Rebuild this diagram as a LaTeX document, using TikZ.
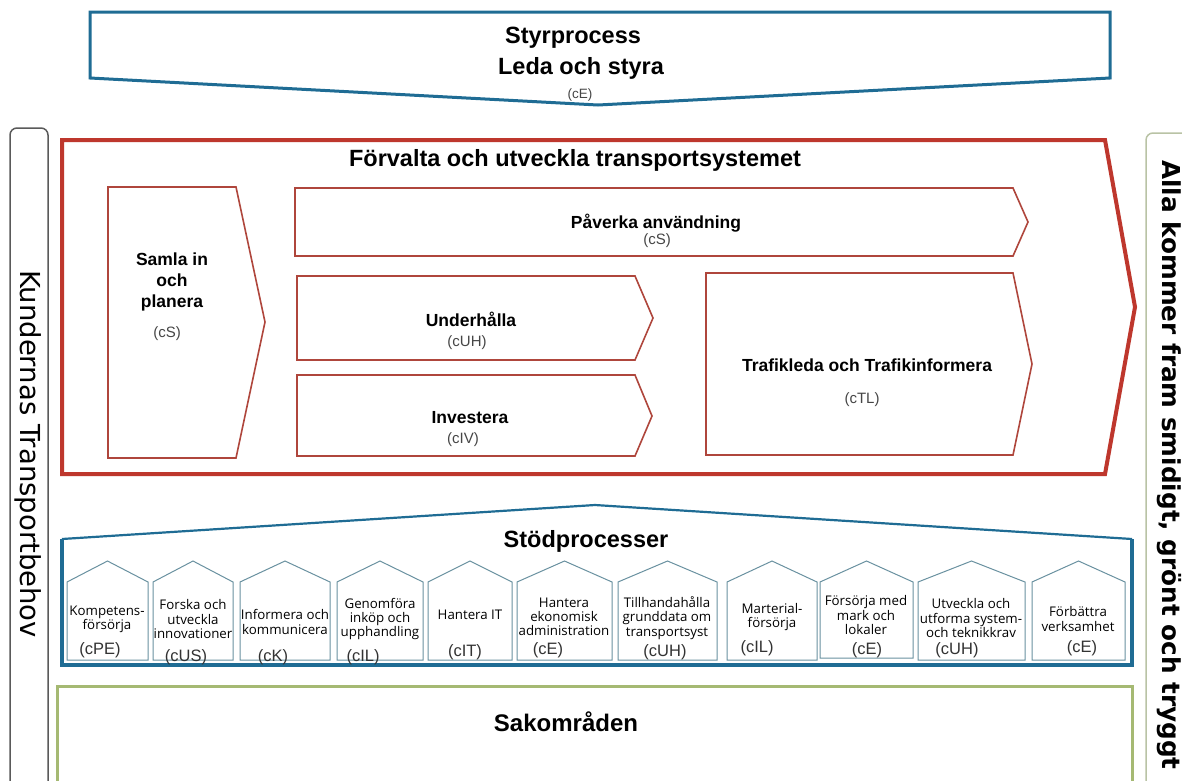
\documentclass[tikz,border=0pt]{standalone}
\usepackage{fontspec}
\setmainfont{Liberation Sans}
\newfontfamily\dvs{DejaVu Sans}
\newfontfamily\osans{Open Sans}
\definecolor{cblue}{RGB}{31,108,148}
\definecolor{cred}{RGB}{190,55,45}
\definecolor{cired}{RGB}{175,70,60}
\definecolor{chouse}{RGB}{105,145,160}
\definecolor{cgreen}{RGB}{165,185,115}
\definecolor{cgraybox}{RGB}{90,90,90}
\definecolor{clightbox}{RGB}{185,195,165}
\definecolor{ccode}{RGB}{70,70,70}
\tikzset{
 titletext/.style={font=\bfseries\fontsize{23.5}{27}\selectfont, inner sep=0pt},
 subtext/.style={font=\bfseries\fontsize{17.5}{21}\selectfont, align=center, inner sep=0pt},
 codetext/.style={font=\fontsize{15}{17}\selectfont, text=ccode, inner sep=0pt},
 hlabel/.style={font=\osans\fontsize{13.3}{14.2}\selectfont, align=center, inner sep=0pt},
 hcode/.style={font=\fontsize{16.5}{18}\selectfont, text=black!80, inner sep=0pt},
 houseline/.style={draw=chouse, line width=1pt, line join=miter},
 innerbox/.style={draw=cired, line width=1.6pt, line join=miter},
}
\newcommand{\hus}[3]{\draw[houseline] (#1,#3) -- (#1,582) -- ({(#1+#2)/2},561) -- (#2,582) -- (#2,#3) -- cycle;}
\begin{document}
\begin{tikzpicture}[x=1pt,y=-1pt]
\useasboundingbox (0,0) rectangle (1182,780);
\clip (0,0) rectangle (1182,780);
\fill[white] (0,0) rectangle (1182,780);

% top chevron
\draw[cblue, line width=3pt, line join=miter] (90,12) -- (1110,12) -- (1110,78) -- (598,105) -- (90,78) -- cycle;
\node[titletext] (styr) at (573,38) {Styrprocess};
\node[titletext] (leda) at (581,68) {Leda och styra};
\node[codetext, font=\fontsize{13.5}{15}\selectfont] (ce0) at (580,95) {(cE)};

% side boxes
\draw[cgraybox, line width=1.5pt, rounded corners=7pt] (10,800) -- (10,128) -- (48,128) -- (48,800);
\node[font=\dvs\fontsize{27.5}{30}\selectfont, rotate=-90, inner sep=0pt] (kund) at (28,454) {Kundernas Transportbehov};
\draw[clightbox, line width=1.5pt, rounded corners=7pt] (1146,800) -- (1146,133) -- (1200,133);
\node[font=\dvs\bfseries\fontsize{24.7}{28}\selectfont, rotate=-90, inner sep=0pt] (alla) at (1169,465) {Alla kommer fram smidigt, grönt och tryggt};

% red main chevron
\draw[cred, line width=4pt, line join=miter] (62,140) -- (1105,140) -- (1135,307) -- (1105,474) -- (62,474) -- cycle;
\node[titletext] (forv) at (575,160) {Förvalta och utveckla transportsystemet};

\draw[innerbox] (108,187) -- (236,187) -- (265,322) -- (236,458) -- (108,458) -- cycle;
\node[subtext] (samla) at (172,282) {Samla in\\och\\planera};
\node[codetext] (cs1) at (167,334) {(cS)};

\draw[innerbox] (295,188) -- (1013,188) -- (1028,222) -- (1013,256) -- (295,256) -- cycle;
\node[subtext] (pav) at (656,223) {Påverka användning};
\node[codetext] (cs2) at (657,241) {(cS)};

\draw[innerbox] (297,276) -- (635,276) -- (653,318) -- (635,360) -- (297,360) -- cycle;
\node[subtext] (und) at (471,319) {Underhålla};
\node[codetext] (cuh) at (467,343) {(cUH)};

\draw[innerbox] (297,375) -- (635,375) -- (652,416) -- (635,456) -- (297,456) -- cycle;
\node[subtext] (inv) at (470,418) {Investera};
\node[codetext] (civ) at (463,440) {(cIV)};

\draw[innerbox] (706,273) -- (1013,273) -- (1032,364) -- (1013,455) -- (706,455) -- cycle;
\node[subtext] (traf) at (867,365) {Trafikleda och Trafikinformera};
\node[codetext] (ctl) at (862,400) {(cTL)};

% support processes
\draw[cblue, line width=3.5pt, line join=miter] (62,539) -- (62,665) -- (1132,665) -- (1132,539);
\draw[cblue, line width=2.2pt, line join=miter] (62,539) -- (595,505) -- (1132,539);
\node[titletext] (stod) at (586,541) {Stödprocesser};

\hus{67}{148}{660}
\hus{153}{233}{660}
\hus{240}{330}{660}
\hus{337}{423}{660}
\hus{428}{512}{660}
\hus{517}{612}{660}
\hus{618}{717}{660}
\hus{727}{817}{660}
\hus{820}{913}{658}
\hus{918}{1025}{660}
\hus{1032}{1125}{660}

\node[hlabel] (h1) at (107,619) {Kompetens-\\försörja};
\node[hlabel] (h2) at (193,619) {Forska och\\utveckla\\innovationer};
\node[hlabel] (h3) at (285,622) {Informera och\\kommunicera};
\node[hlabel] (h4) at (380,619) {Genomföra\\inköp och\\upphandling};
\node[hlabel] (h5) at (470,615) {Hantera IT};
\node[hlabel] (h6) at (564,617) {Hantera\\ekonomisk\\administration};
\node[hlabel] (h7) at (667,618) {Tillhandahålla\\grunddata om\\transportsyst};
\node[hlabel] (h8) at (772,617) {Marterial-\\försörja};
\node[hlabel] (h9) at (866,615) {Försörja med\\mark och\\lokaler};
\node[hlabel] (h10) at (971,618) {Utveckla och\\utforma system-\\och teknikkrav};
\node[hlabel] (h11) at (1078,619) {Förbättra\\verksamhet};

\node[hcode] (k1) at (100,650) {(cPE)};
\node[hcode] (k2) at (186,657) {(cUS)};
\node[hcode] (k3) at (273,657) {(cK)};
\node[hcode] (k4) at (363,657) {(cIL)};
\node[hcode] (k5) at (465,652) {(cIT)};
\node[hcode] (k6) at (548,650) {(cE)};
\node[hcode] (k7) at (665,652) {(cUH)};
\node[hcode] (k8) at (757,648) {(cIL)};
\node[hcode] (k9) at (867,650) {(cE)};
\node[hcode] (k10) at (957,650) {(cUH)};
\node[hcode] (k11) at (1082,648) {(cE)};

% subject areas
\draw[cgreen, line width=3pt] (57,800) -- (57,686) -- (1132,686) -- (1132,800);
\node[titletext, font=\bfseries\fontsize{24}{28}\selectfont] (sak) at (566,722) {Sakområden};
\end{tikzpicture}
\end{document}
